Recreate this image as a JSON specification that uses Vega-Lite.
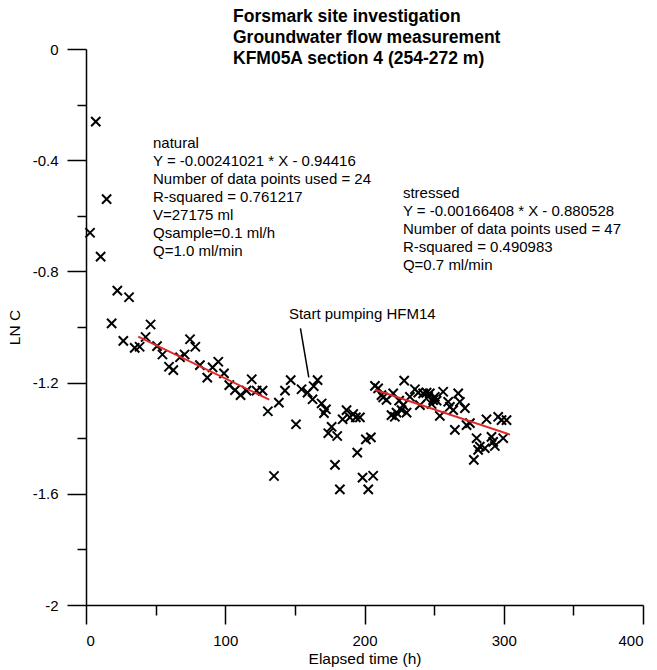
{
  "$schema": "https://vega.github.io/schema/vega-lite/v6.json",
  "width": 557,
  "height": 556,
  "autosize": "none",
  "padding": {"left": 86, "top": 49, "right": 14, "bottom": 65},
  "background": "white",
  "config": {
    "font": "Liberation Sans",
    "view": {"stroke": null},
    "axis": {
      "grid": false,
      "domainColor": "black",
      "tickColor": "black",
      "labelColor": "black",
      "titleColor": "black",
      "labelFontSize": 15,
      "titleFontSize": 15.5,
      "titleFontWeight": "normal",
      "labelFont": "Liberation Sans",
      "titleFont": "Liberation Sans",
      "domainWidth": 1.5,
      "tickWidth": 1.5
    }
  },
  "title": {
    "text": ["Forsmark site investigation", "Groundwater flow measurement", "KFM05A section 4 (254-272 m)"],
    "anchor": "start",
    "frame": "group",
    "dx": 147,
    "fontSize": 17.5,
    "fontWeight": "bold",
    "lineHeight": 21,
    "baseline": "bottom",
    "offset": -43,
    "color": "black",
    "font": "Liberation Sans"
  },
  "datasets": {
    "samples": [
      {"t": 2.9, "lnc": -0.661}, {"t": 7.0, "lnc": -0.261}, {"t": 10.5, "lnc": -0.747}, {"t": 14.8, "lnc": -0.540},
      {"t": 18.4, "lnc": -0.987}, {"t": 22.5, "lnc": -0.869}, {"t": 26.8, "lnc": -1.050}, {"t": 30.9, "lnc": -0.893},
      {"t": 35.0, "lnc": -1.075}, {"t": 38.5, "lnc": -1.071}, {"t": 42.8, "lnc": -1.036}, {"t": 46.4, "lnc": -0.991},
      {"t": 51.0, "lnc": -1.069}, {"t": 54.9, "lnc": -1.099}, {"t": 59.6, "lnc": -1.143}, {"t": 62.7, "lnc": -1.155},
      {"t": 67.5, "lnc": -1.109}, {"t": 70.8, "lnc": -1.099}, {"t": 74.7, "lnc": -1.044}, {"t": 78.5, "lnc": -1.071},
      {"t": 81.8, "lnc": -1.137}, {"t": 87.1, "lnc": -1.182}, {"t": 90.9, "lnc": -1.145}, {"t": 95.0, "lnc": -1.125},
      {"t": 99.1, "lnc": -1.167}, {"t": 102.9, "lnc": -1.209}, {"t": 107.0, "lnc": -1.227}, {"t": 111.0, "lnc": -1.245},
      {"t": 115.3, "lnc": -1.229}, {"t": 119.0, "lnc": -1.188}, {"t": 122.5, "lnc": -1.229}, {"t": 126.8, "lnc": -1.229},
      {"t": 130.6, "lnc": -1.303}, {"t": 135.0, "lnc": -1.536}, {"t": 138.5, "lnc": -1.272}, {"t": 142.9, "lnc": -1.229},
      {"t": 147.0, "lnc": -1.191}, {"t": 150.8, "lnc": -1.350}, {"t": 154.8, "lnc": -1.224}, {"t": 159.1, "lnc": -1.236},
      {"t": 162.7, "lnc": -1.260}, {"t": 163.5, "lnc": -1.213}, {"t": 166.3, "lnc": -1.191}, {"t": 169.2, "lnc": -1.275},
      {"t": 170.9, "lnc": -1.310}, {"t": 172.3, "lnc": -1.296}, {"t": 174.0, "lnc": -1.382}, {"t": 176.4, "lnc": -1.359},
      {"t": 178.8, "lnc": -1.496}, {"t": 180.4, "lnc": -1.392}, {"t": 182.3, "lnc": -1.584}, {"t": 184.3, "lnc": -1.332},
      {"t": 187.1, "lnc": -1.299}, {"t": 189.5, "lnc": -1.325}, {"t": 191.9, "lnc": -1.313}, {"t": 193.8, "lnc": -1.325},
      {"t": 194.8, "lnc": -1.452}, {"t": 196.7, "lnc": -1.325}, {"t": 198.6, "lnc": -1.542}, {"t": 201.0, "lnc": -1.404},
      {"t": 202.7, "lnc": -1.584}, {"t": 204.6, "lnc": -1.397}, {"t": 206.2, "lnc": -1.535}, {"t": 207.5, "lnc": -1.212},
      {"t": 209.8, "lnc": -1.221}, {"t": 212.2, "lnc": -1.245}, {"t": 213.4, "lnc": -1.253}, {"t": 215.8, "lnc": -1.262},
      {"t": 219.4, "lnc": -1.317}, {"t": 220.6, "lnc": -1.239}, {"t": 221.8, "lnc": -1.323}, {"t": 223.0, "lnc": -1.308},
      {"t": 224.9, "lnc": -1.265}, {"t": 226.6, "lnc": -1.299}, {"t": 227.8, "lnc": -1.281}, {"t": 228.5, "lnc": -1.193},
      {"t": 230.2, "lnc": -1.308}, {"t": 232.6, "lnc": -1.251}, {"t": 236.2, "lnc": -1.224}, {"t": 238.6, "lnc": -1.236},
      {"t": 239.8, "lnc": -1.281}, {"t": 242.1, "lnc": -1.239}, {"t": 244.6, "lnc": -1.236}, {"t": 245.7, "lnc": -1.251},
      {"t": 246.9, "lnc": -1.239}, {"t": 248.2, "lnc": -1.277}, {"t": 249.3, "lnc": -1.263}, {"t": 250.5, "lnc": -1.251},
      {"t": 251.8, "lnc": -1.265}, {"t": 254.1, "lnc": -1.320}, {"t": 256.5, "lnc": -1.233}, {"t": 260.1, "lnc": -1.269},
      {"t": 261.3, "lnc": -1.287}, {"t": 263.7, "lnc": -1.299}, {"t": 264.9, "lnc": -1.370}, {"t": 267.3, "lnc": -1.239},
      {"t": 268.5, "lnc": -1.269}, {"t": 272.1, "lnc": -1.292}, {"t": 273.3, "lnc": -1.353}, {"t": 275.7, "lnc": -1.346},
      {"t": 278.5, "lnc": -1.478}, {"t": 280.5, "lnc": -1.400}, {"t": 281.6, "lnc": -1.442}, {"t": 282.8, "lnc": -1.430},
      {"t": 286.4, "lnc": -1.436}, {"t": 287.6, "lnc": -1.332}, {"t": 291.2, "lnc": -1.395}, {"t": 292.4, "lnc": -1.413},
      {"t": 293.6, "lnc": -1.428}, {"t": 296.0, "lnc": -1.323}, {"t": 298.4, "lnc": -1.335}, {"t": 299.6, "lnc": -1.400},
      {"t": 302.0, "lnc": -1.335}
    ],
    "fits": [
      {"series": "natural", "t": 37.5, "lnc": -1.0345},
      {"series": "natural", "t": 131.6, "lnc": -1.2613},
      {"series": "stressed", "t": 207.5, "lnc": -1.2258},
      {"series": "stressed", "t": 304.5, "lnc": -1.3872}
    ],
    "notes": [
      {"t": 48.1, "lnc": -0.314, "label": "natural\nY = -0.00241021 * X - 0.94416\nNumber of data points used = 24\nR-squared = 0.761217\nV=27175 ml\nQsample=0.1 ml/h\nQ=1.0 ml/min"},
      {"t": 227.6, "lnc": -0.493, "label": "stressed\nY = -0.00166408 * X - 0.880528\nNumber of data points used = 47\nR-squared = 0.490983\nQ=0.7 ml/min"},
      {"t": 145.7, "lnc": -0.927, "label": "Start pumping HFM14"}
    ],
    "leader": [
      {"t": 154.0, "lnc": -1.005, "t2": 160.0, "lnc2": -1.181}
    ]
  },
  "layer": [
    {
      "data": {"name": "samples"},
      "mark": {
        "type": "point",
        "shape": "M-1,-1L1,1M-1,1L1,-1",
        "filled": false,
        "stroke": "black",
        "strokeWidth": 2,
        "size": 85,
        "opacity": 1
      },
      "encoding": {
        "x": {
          "field": "t", "type": "quantitative",
          "scale": {"domain": [0, 400], "nice": false, "zero": false},
          "axis": {
            "orient": "bottom",
            "values": [0, 50, 100, 150, 200, 250, 300, 350, 400],
            "tickSize": {"condition": {"test": "datum.value % 100 === 0", "value": 19}, "value": 10},
            "labelExpr": "datum.value % 100 === 0 ? '' + datum.value : ''",
            "labelPadding": 9,
            "title": "Elapsed time (h)",
            "titlePadding": 3
          }
        },
        "y": {
          "field": "lnc", "type": "quantitative",
          "scale": {"domain": [-2, 0], "nice": false, "zero": false},
          "axis": {
            "orient": "left",
            "values": [0, -0.2, -0.4, -0.6, -0.8, -1.0, -1.2, -1.4, -1.6, -1.8, -2],
            "tickSize": {"condition": {"test": "abs(round(datum.value * 10)) % 4 === 0", "value": 19}, "value": 9},
            "labelExpr": "abs(round(datum.value * 10)) % 4 === 0 ? '' + datum.value : ''",
            "labelPadding": 9,
            "title": "LN C",
            "titlePadding": 10
          }
        }
      }
    },
    {
      "data": {"name": "fits"},
      "mark": {"type": "line", "color": "#e02828", "strokeWidth": 2},
      "encoding": {
        "x": {"field": "t", "type": "quantitative"},
        "y": {"field": "lnc", "type": "quantitative"},
        "detail": {"field": "series"}
      }
    },
    {
      "data": {"name": "leader"},
      "mark": {"type": "rule", "color": "black", "strokeWidth": 1.5},
      "encoding": {
        "x": {"field": "t", "type": "quantitative"},
        "y": {"field": "lnc", "type": "quantitative"},
        "x2": {"field": "t2"},
        "y2": {"field": "lnc2"}
      }
    },
    {
      "data": {"name": "notes"},
      "mark": {"type": "text", "align": "left", "baseline": "top", "fontSize": 15, "lineHeight": 18, "lineBreak": "\n", "color": "black", "font": "Liberation Sans"},
      "encoding": {
        "x": {"field": "t", "type": "quantitative"},
        "y": {"field": "lnc", "type": "quantitative"},
        "text": {"field": "label"}
      }
    }
  ]
}
